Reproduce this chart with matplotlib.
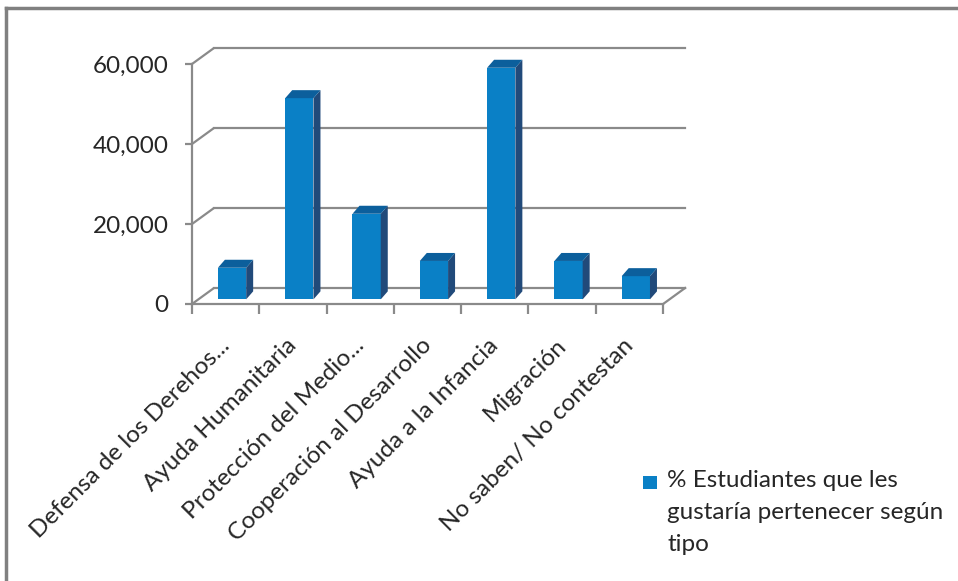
import matplotlib
matplotlib.use("Agg")
import matplotlib.pyplot as plt
from matplotlib.patches import Polygon, Rectangle
from matplotlib.lines import Line2D
from matplotlib.transforms import ScaledTranslation

categories = ["Defensa de los Derehos...", "Ayuda Humanitaria", "Protección del Medio...",
              "Cooperación al Desarrollo", "Ayuda a la Infancia", "Migración",
              "No saben/ No contestan"]
values = [7.9, 50.3, 21.4, 9.6, 57.9, 9.6, 5.8]
yticks = [0, 20, 40, 60]
ytick_labels = ["0", "20,000", "40,000", "60,000"]
series_label = "% Estudiantes que les\ngustaría pertenecer según\ntipo"

plt.rcParams['font.family'] = ['Lato', 'DejaVu Sans']

W, H = 958, 581
fig = plt.figure(figsize=(W / 100, H / 100), dpi=100)

# axes placement in pixels
px_left, px_right, px_bottom, px_top = 192, 700, 304, 40
ax = fig.add_axes([px_left / W, (H - px_bottom) / H, (px_right - px_left) / W, (px_bottom - px_top) / H])
xscale = 67.3  # px per category
yscale = 4.0   # px per unit
ax.set_xlim(-0.5, -0.5 + (px_right - px_left) / xscale)
ax.set_ylim(0, (px_bottom - px_top) / yscale)

n = len(categories)
grid_c = "#8a8a8a"
lw = 1.6
txt_c = "#262626"
fs = 17.5
# depth offsets (data units) for floor/back wall
dx = 22 / xscale
dy = 16 / yscale
# bar front plane fraction and bar depth
f0 = 0.29
bdx = 7 / xscale
bdy = 8 / yscale
bw = 0.42

xl, xr = -0.5, n - 0.5
for t in yticks:
    ax.plot([xl, xl + dx], [t, t + dy], color=grid_c, lw=lw, solid_capstyle="butt", zorder=1, clip_on=False)
    ax.plot([xl + dx, xr + dx], [t + dy, t + dy], color=grid_c, lw=lw, zorder=1, clip_on=False)
ax.plot([xr, xr + dx], [0, dy], color=grid_c, lw=lw, zorder=1, clip_on=False)

front_c = "#0a80c6"
top_c = "#0c5f9c"
side_c = "#214a7a"
bars = ax.bar([i + f0 * dx for i in range(n)], values, width=bw, bottom=f0 * dy,
              color=front_c, zorder=3, label=series_label)
for i, v in enumerate(values):
    x0 = i + f0 * dx - bw / 2
    x1 = x0 + bw
    y0 = f0 * dy
    y1 = y0 + v
    ax.add_patch(Polygon([(x1, y0), (x1 + bdx, y0 + bdy), (x1 + bdx, y1 + bdy), (x1, y1)],
                         closed=True, facecolor=side_c, edgecolor="none", zorder=3))
    ax.add_patch(Polygon([(x0, y1), (x1, y1), (x1 + bdx, y1 + bdy), (x0 + bdx, y1 + bdy)],
                         closed=True, facecolor=top_c, edgecolor="none", zorder=3))

for s in ["top", "right"]:
    ax.spines[s].set_visible(False)
ax.spines["left"].set_bounds(0, 60)
ax.spines["bottom"].set_bounds(xl, xr)
for s in ["left", "bottom"]:
    ax.spines[s].set_color(grid_c)
    ax.spines[s].set_linewidth(lw)
    ax.spines[s].set_zorder(4)

ax.set_yticks(yticks)
ax.set_yticklabels(ytick_labels, fontsize=fs, color=txt_c)
ax.tick_params(axis="y", direction="out", length=5, width=lw, color=grid_c, pad=12)

ax.set_xticks([i - 0.5 for i in range(n + 1)])
ax.set_xticklabels([])
ax.tick_params(axis="x", which="major", direction="out", length=7, width=lw, color=grid_c)
ax.set_xticks(range(n), minor=True)
ax.set_xticklabels(categories, minor=True, rotation=45, ha="right", rotation_mode="anchor",
                   fontsize=fs, color=txt_c)
ax.tick_params(axis="x", which="minor", length=0, pad=22)
shift = ScaledTranslation(-0.07, 0, fig.dpi_scale_trans)
for lbl in ax.get_xticklabels(minor=True):
    lbl.set_transform(lbl.get_transform() + shift)
ax.set_facecolor("none")

# legend (marker aligned with the first line, as in the original)
fig.add_artist(Rectangle((643 / W, 1 - 489 / H), 14 / W, 13 / H, transform=fig.transFigure,
                         facecolor=front_c, edgecolor="none"))
fig.text(667 / W, 1 - 470 / H, series_label, ha="left", va="top", fontsize=fs,
         color=txt_c, linespacing=1.66)

# outer frame
fig.add_artist(Line2D([6 / W, 6 / W], [0, 1 - 8 / H], color="#808080", lw=2.5))
fig.add_artist(Line2D([6 / W, 1], [1 - 8 / H, 1 - 8 / H], color="#808080", lw=2.5))

fig.savefig("out.png", dpi=100)
